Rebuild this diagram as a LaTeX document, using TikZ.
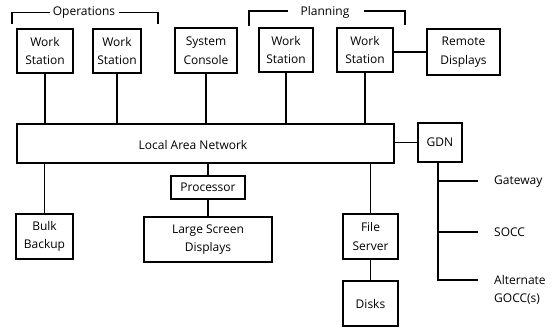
\documentclass[tikz,border=0pt]{standalone}
\usepackage{fontspec}
\setmainfont{Open Sans}
\begin{document}
\begin{tikzpicture}[x=1pt,y=-1pt,
  every node/.style={font=\fontsize{12}{18.5}\selectfont, align=center, inner sep=0pt},
  box/.style={draw, line width=1.2pt},
  ln/.style={line width=1.2pt}]
\useasboundingbox (0,0) rectangle (557,327);
% boxes
\node[box, minimum width=56, minimum height=44] (ws1) at (45,51) {Work\\Station};
\node[box, minimum width=48, minimum height=44] (ws2) at (117,51) {Work\\Station};
\node[box, minimum width=62, minimum height=45] (sc) at (206,50.5) {System\\Console};
\node[box, minimum width=54, minimum height=44] (ws3) at (286,50) {Work\\Station};
\node[box, minimum width=56, minimum height=44] (ws4) at (365,50) {Work\\Station};
\node[box, minimum width=73, minimum height=46] (rd) at (463.5,52) {Remote\\Displays};
\node[box, minimum width=377, minimum height=39] (lan) at (205.5,143.5) {};
\node (lant) at (193,145) {Local Area Network};
\node[box, minimum width=44, minimum height=39] (gdn) at (440,142.5) {GDN};
\node[box, minimum width=74, minimum height=23] (proc) at (208,187.5) {Processor};
\node[box, minimum width=128, minimum height=45] (lsd) at (208,239.5) {Large Screen\\Displays};
\node[box, minimum width=57, minimum height=45] (bulk) at (44.5,236.5) {Bulk\\Backup};
\node[box, minimum width=55, minimum height=45] (fs) at (370.5,236.5) {File\\Server};
\node[box, minimum width=55, minimum height=45] (disks) at (370.5,303.5) {Disks};
% bracket labels
\node (ops) at (84,13) {Operations};
\node (plan) at (325,12) {Planning};
\draw[ln] (12,24) -- (12,12.5) -- (50,12.5);
\draw[ln] (119,12.5) -- (158,12.5) -- (158,24);
\draw[ln] (249,26) -- (249,11) -- (288,11);
\draw[ln] (364,11) -- (405,11) -- (405,25);
% connectors to LAN
\draw[ln] (ws1.south) -- (ws1.south |- lan.north);
\draw[ln] (ws2.south) -- (ws2.south |- lan.north);
\draw[ln] (sc.south) -- (sc.south |- lan.north);
\draw[ln] (ws3.south) -- (ws3.south |- lan.north);
\draw[ln] (ws4.south) -- (ws4.south |- lan.north);
\draw[ln] (ws4.east |- rd.west) -- (rd.west);
\draw[ln] (lan.east |- gdn.west) -- (gdn.west);
\draw[ln] (bulk.north) -- (bulk.north |- lan.south);
\draw[ln] (proc.north) -- (proc.north |- lan.south);
\draw[ln] (proc.south) -- (lsd.north);
\draw[ln] (fs.north) -- (fs.north |- lan.south);
\draw[ln] (fs.south) -- (disks.north);
% GDN branches
\node[anchor=west] (gw) at (494,182) {Gateway};
\node[anchor=west] (socc) at (494,232) {SOCC};
\node[anchor=west, align=left] (alt) at (494,290) {Alternate\\GOCC(s)};
\coordinate (tb) at (438,280);
\coordinate (g1) at (478,181);
\coordinate (g2) at (478,232);
\coordinate (g3) at (478,280);
\draw[ln] (gdn.south -| tb) -- (tb) -- (g3);
\draw[ln] (tb |- g1) -- (g1);
\draw[ln] (tb |- g2) -- (g2);
\end{tikzpicture}
\end{document}
